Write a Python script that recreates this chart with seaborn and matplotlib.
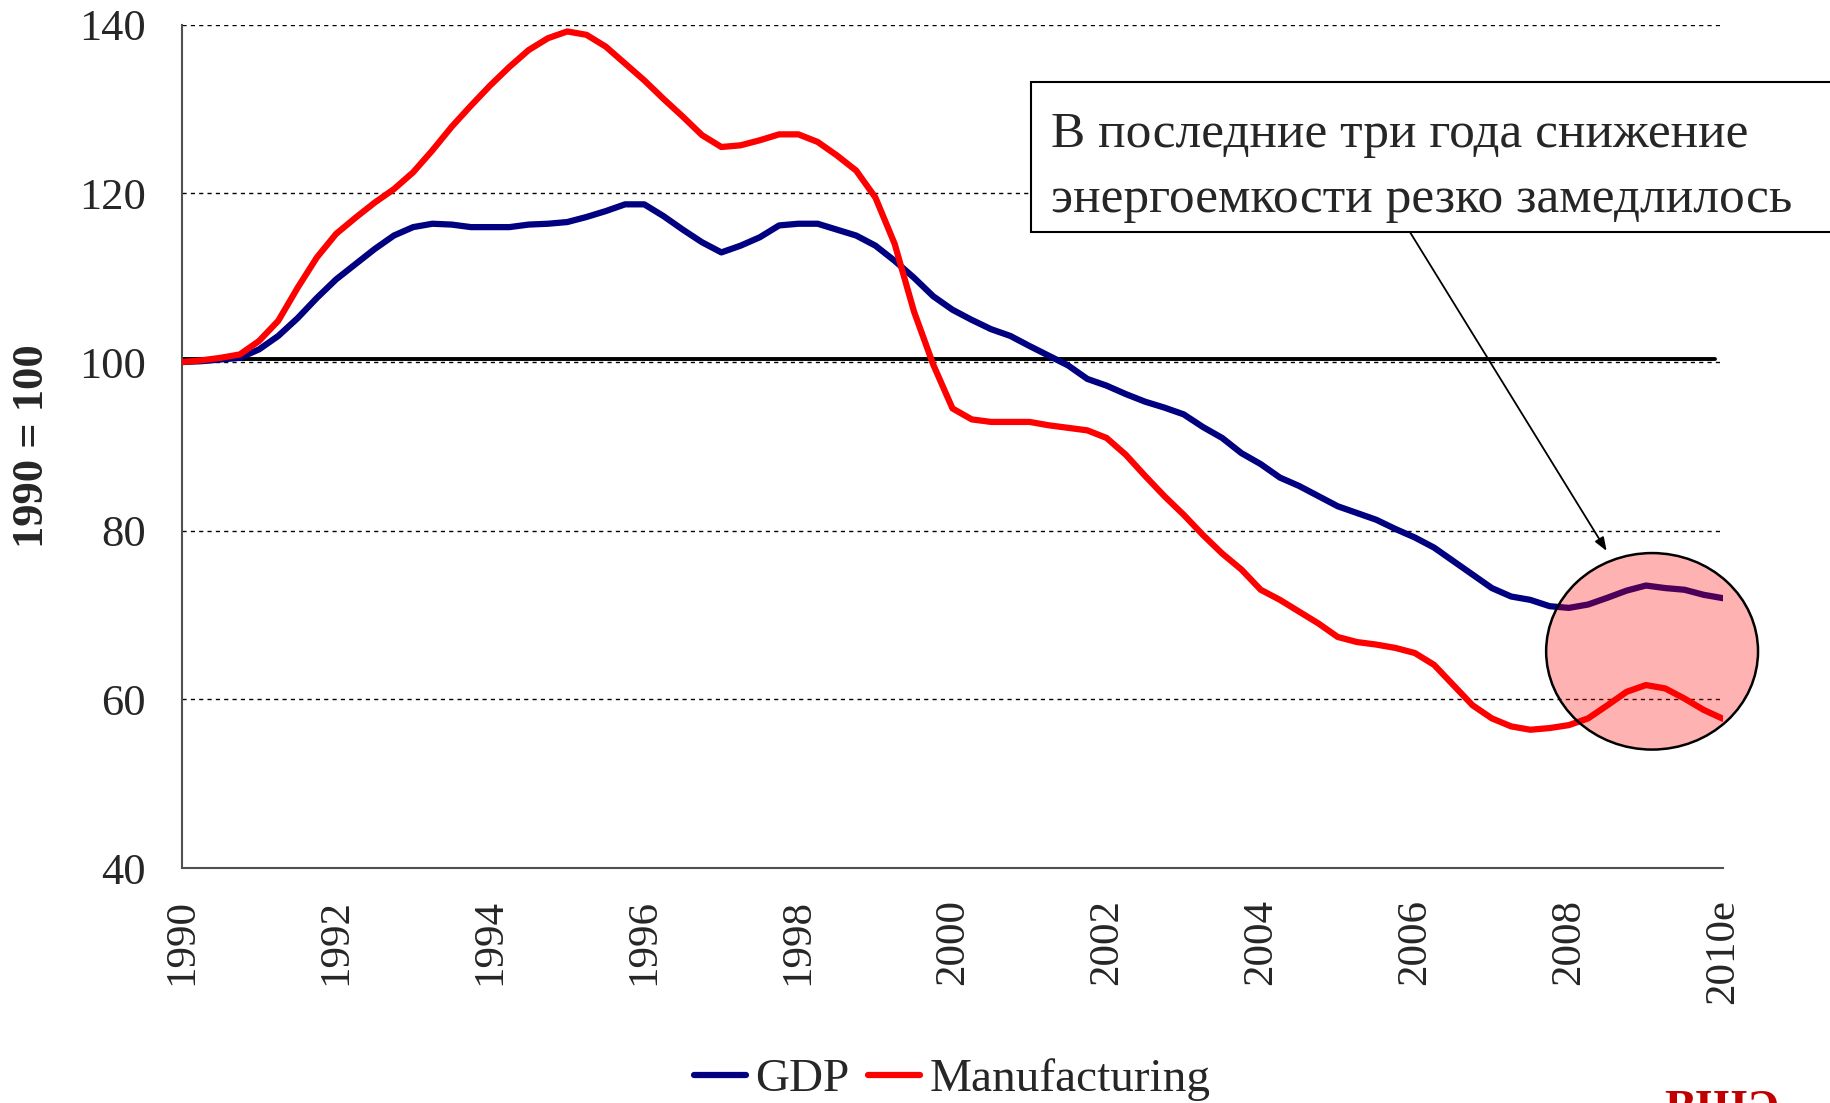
import matplotlib
matplotlib.use("Agg")
import matplotlib.pyplot as plt
from matplotlib.patches import Ellipse, Rectangle
import numpy as np
import pandas as pd
import seaborn as sns

# quarterly points, 1990 = 100
years = 1990 + np.arange(81) / 4

gdp = [100.0, 100.1, 100.3, 100.5, 101.5, 103.1, 105.2, 107.6,
       109.8, 111.6, 113.4, 115.0, 116.0, 116.4, 116.3, 116.0,
       116.0, 116.0, 116.3, 116.4, 116.6, 117.2, 117.9, 118.7,
       118.7, 117.3, 115.7, 114.2, 113.0, 113.8, 114.8, 116.2,
       116.4, 116.4, 115.7, 115.0, 113.8, 112.0, 110.0, 107.8,
       106.2, 105.0, 103.9, 103.1, 101.9, 100.75, 99.6, 98.0,
       97.2, 96.2, 95.3, 94.6, 93.8, 92.3, 91.0, 89.2,
       87.9, 86.3, 85.3, 84.1, 82.9, 82.1, 81.3, 80.2,
       79.2, 78.0, 76.4, 74.8, 73.2, 72.2, 71.8, 71.05,
       70.85, 71.25, 72.05, 72.9, 73.5, 73.2, 73.0, 72.4,
       72.0]

manufacturing = [100.0, 100.2, 100.5, 100.9, 102.5, 104.9, 108.8, 112.4,
                 115.2, 117.1, 118.9, 120.5, 122.5, 125.1, 127.9, 130.4,
                 132.8, 135.0, 137.0, 138.4, 139.2, 138.8, 137.4, 135.4,
                 133.4, 131.2, 129.1, 126.9, 125.5, 125.7, 126.3, 127.0,
                 127.0, 126.1, 124.5, 122.7, 119.5, 114.0, 106.0, 99.7,
                 94.5, 93.2, 92.9, 92.9, 92.9, 92.5, 92.2, 91.9,
                 91.0, 89.0, 86.5, 84.1, 81.9, 79.5, 77.3, 75.4,
                 73.0, 71.8, 70.4, 69.0, 67.4, 66.8, 66.5, 66.1,
                 65.5, 64.1, 61.7, 59.3, 57.75, 56.8, 56.4, 56.6,
                 56.95, 57.75, 59.3, 60.9, 61.7, 61.3, 60.1, 58.75,
                 57.7]

series_names = ["GDP", "Manufacturing"]
tick_years = list(range(1990, 2011, 2))
tick_labels = [str(y) for y in tick_years[:-1]] + ["2010e"]
y_ticks = [40, 60, 80, 100, 120, 140]
base_level = 100.4

note = "В последние три года снижение\nэнергоемкости резко замедлилось"

sns.set_style("white")
plt.rcParams["font.family"] = ["Liberation Serif", "DejaVu Serif"]

df = pd.DataFrame({"year": years, "GDP": gdp, "Manufacturing": manufacturing})
long_df = df.melt("year", var_name="series", value_name="index")

fig = plt.figure(figsize=(18.31, 11.03), dpi=100)
ax = fig.add_axes([0.0994, 0.213, 0.8416, 0.7646])

sns.lineplot(data=long_df, x="year", y="index", hue="series", hue_order=series_names,
             palette={"GDP": "#000080", "Manufacturing": "#ff0000"},
             linewidth=4.5, ax=ax, legend=False, zorder=3)
handles = list(ax.lines[:2])

ax.axhline(base_level, xmin=0, xmax=0.995, color="black", lw=2.8, zorder=2)

ax.set_xlim(1990, 2010)
ax.set_ylim(40, 140)
ax.set_xticks(tick_years, labels=tick_labels, rotation=90)
ax.set_xticks(np.arange(1991, 2010, 2), minor=True)
ax.set_yticks(y_ticks)
ax.set_xlabel("")
ax.set_ylabel("1990 = 100", fontsize=32, fontweight="bold", va="center")
ax.yaxis.set_label_coords(-0.0975, 0.5)

ax.set_axisbelow(True)
ax.grid(axis="y", color="black", linestyle=(0, (3, 3)), linewidth=1.0)
ax.grid(axis="x", visible=False)

ax.tick_params(which="both", direction="in", length=16, width=1.2, color="#404040")
ax.tick_params(axis="y", labelsize=32, pad=26)
ax.tick_params(axis="x", labelsize=31, pad=22)

for side in ["top", "right"]:
    ax.spines[side].set_visible(False)
for side in ["left", "bottom"]:
    ax.spines[side].set_color("#505050")
    ax.spines[side].set_linewidth(1.5)

# highlight of the last three years
ax.add_patch(Ellipse((2009.08, 65.7), width=2.75, height=23.3,
                     facecolor=(1, 0, 0, 0.3), edgecolor="black", lw=1.8,
                     zorder=5, clip_on=False))

# callout
ax.annotate("", xy=(2008.49, 77.6), xytext=(0.770, 0.7897), textcoords="figure fraction",
            arrowprops=dict(arrowstyle="-|>,head_length=0.8,head_width=0.3", color="black",
                            lw=1.3, shrinkA=0, shrinkB=0))
fig.add_artist(Rectangle((0.5631, 0.7897), 0.45, 0.136, transform=fig.transFigure,
                         facecolor="white", edgecolor="black", lw=1.5, zorder=4))
fig.text(0.574, 0.848, note, fontsize=37, va="center", ha="left", linespacing=1.52, zorder=5)

fig.legend(handles=handles, labels=series_names, loc="center", bbox_to_anchor=(0.52, 0.021),
           ncol=2, frameon=False, fontsize=34, handlelength=1.1, handletextpad=0.2,
           columnspacing=0.4)

fig.text(0.909, 0.0118, "ВШЭ", color="#c00000", fontsize=34, fontweight="bold",
         va="top", ha="left")

fig.savefig("out.png", dpi=100)
